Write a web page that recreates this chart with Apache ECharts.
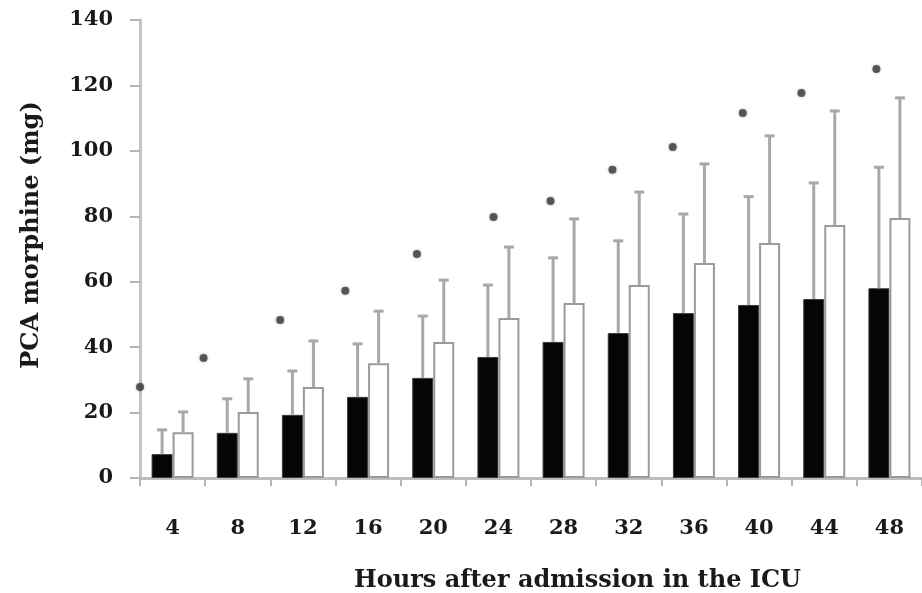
<!DOCTYPE html>
<html>
<head>
<meta charset="utf-8">
<script src="https://cdn.jsdelivr.net/npm/echarts@6/dist/echarts.min.js"></script>
<style>
  html, body { margin: 0; padding: 0; background: #ffffff; }
  #chart { width: 922px; height: 593px; }
</style>
</head>
<body>
<div id="chart"></div>
<script>
// Hours after ICU admission (category axis)
const hours = ['4', '8', '12', '16', '20', '24', '28', '32', '36', '40', '44', '48'];

// Cumulative PCA morphine (mg), mean and SD, black group
const meanBlack = [7.3, 13.8, 19.3, 24.8, 30.6, 37.0, 41.6, 44.3, 50.4, 52.9, 54.7, 58.0];
const sdBlack = [7.4, 10.4, 13.4, 16.2, 18.9, 22.0, 25.7, 28.2, 30.3, 33.1, 35.5, 37.0];

// Cumulative PCA morphine (mg), mean and SD, white group
const meanWhite = [14.0, 20.2, 27.8, 35.1, 41.6, 48.9, 53.5, 59.0, 65.7, 71.8, 77.3, 79.5];
const sdWhite = [6.2, 10.1, 14.1, 15.9, 18.9, 21.7, 25.7, 28.4, 30.3, 32.8, 34.9, 36.7];

// Significance markers: position in hours and height in mg
const starHour = [2.0, 5.9, 10.6, 14.6, 19.0, 23.7, 27.2, 31.0, 34.7, 39.0, 42.6, 47.2];
const starLevel = [27.8, 36.7, 48.3, 57.2, 68.5, 79.8, 84.7, 94.2, 101.2, 111.6, 117.7, 125.0];

// Y axis ticks
const yMin = 0, yMax = 140, yStep = 20;

const BAR_W = 21;
const FONT = 'DejaVu Serif';
const GREY = '#a8a8a8';

function errorData(means, sds) {
  return means.map((m, i) => [i, m, m + sds[i]]);
}

function errorRenderer(offset) {
  return function (params, api) {
    const base = api.coord([api.value(0), api.value(1)]);
    const top = api.coord([api.value(0), api.value(2)]);
    const x = base[0] + offset;
    const cap = 5;
    return {
      type: 'group',
      children: [
        { type: 'line', shape: { x1: x, y1: base[1], x2: x, y2: top[1] },
          style: { stroke: GREY, lineWidth: 3 } },
        { type: 'line', shape: { x1: x - cap, y1: top[1], x2: x + cap, y2: top[1] },
          style: { stroke: GREY, lineWidth: 3 } }
      ]
    };
  };
}

const chart = echarts.init(document.getElementById('chart'), null, { renderer: 'canvas' });

chart.setOption({
  animation: false,
  backgroundColor: '#ffffff',
  grid: { left: 140, right: -11, top: 20, bottom: 115, containLabel: false },
  xAxis: [
    {
      type: 'category',
      data: hours,
      axisLine: { lineStyle: { color: '#bdbdbd', width: 3 } },
      axisTick: { show: true, length: 8, lineStyle: { color: '#b5b5b5', width: 2 } },
      axisLabel: { margin: 40, color: '#1a1a1a', fontFamily: FONT, fontWeight: 'bold', fontSize: 21 },
      splitLine: { show: false }
    },
    {
      type: 'value', min: 2, max: 50, show: false, position: 'bottom'
    }
  ],
  yAxis: {
    type: 'value',
    min: yMin, max: yMax, interval: yStep,
    axisLine: { show: true, lineStyle: { color: '#c4c4c4', width: 3 } },
    axisTick: { show: true, length: 10, lineStyle: { color: '#b5b5b5', width: 2 } },
    axisLabel: { margin: 27, color: '#1a1a1a', fontFamily: FONT, fontWeight: 'bold', fontSize: 21 },
    splitLine: { show: false }
  },
  series: [
    {
      type: 'bar', data: meanBlack, barWidth: BAR_W, barGap: '0%',
      itemStyle: { color: '#050505', borderColor: '#3a3a3a', borderWidth: 1 }
    },
    {
      type: 'bar', data: meanWhite, barWidth: BAR_W,
      itemStyle: { color: '#ffffff', borderColor: '#9a9a9a', borderWidth: 2 }
    },
    {
      type: 'custom', data: errorData(meanBlack, sdBlack),
      renderItem: errorRenderer(-BAR_W / 2), z: 3
    },
    {
      type: 'custom', data: errorData(meanWhite, sdWhite),
      renderItem: errorRenderer(BAR_W / 2), z: 3
    },
    {
      type: 'scatter', xAxisIndex: 1,
      data: starHour.map((h, i) => [h, starLevel[i]]),
      symbol: 'circle', symbolSize: 8,
      itemStyle: { color: '#3a3a3a', shadowBlur: 3, shadowColor: 'rgba(0,0,0,0.35)' },
      z: 4
    }
  ],
  graphic: [
    {
      type: 'text', left: 354, top: 569,
      style: { text: 'Hours after admission in the ICU', fill: '#1a1a1a',
               font: 'bold 24px "DejaVu Serif"' }
    },
    {
      type: 'text', x: 32, y: 235, rotation: Math.PI / 2,
      style: { text: 'PCA morphine (mg)', fill: '#1a1a1a', align: 'center', verticalAlign: 'middle',
               font: 'bold 24px "DejaVu Serif"' }
    }
  ]
});
</script>
</body>
</html>
